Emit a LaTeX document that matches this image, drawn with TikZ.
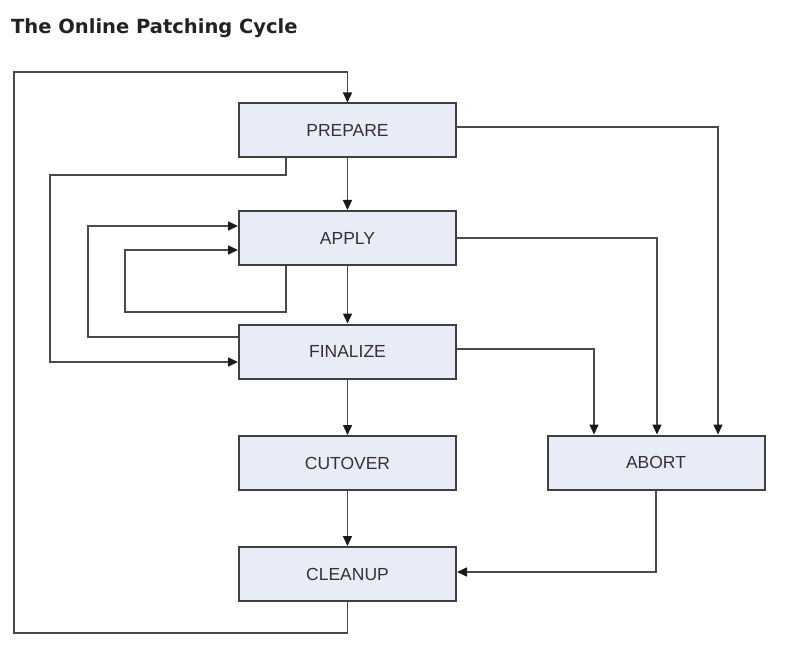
\documentclass[tikz,border=0pt]{standalone}
\usepackage{fontspec}
\setmainfont{Liberation Sans}
\newfontfamily\titlefont{DejaVu Sans}
\usetikzlibrary{arrows.meta}
\definecolor{boxfill}{HTML}{E8ECF6}
\definecolor{boxline}{HTML}{404040}
\definecolor{conn}{HTML}{4A4A4A}
\definecolor{titlecol}{HTML}{222222}
\tikzset{
  stage/.style={draw=boxline, line width=2pt, fill=boxfill, minimum width=217pt, minimum height=54pt, inner sep=0pt, font=\fontsize{17.5}{20}\selectfont, text=black!80},
  link/.style={draw=conn, line width=1.5pt},
  arr/.style={link, -{Triangle[length=10pt,width=9pt,color=black!90]}}
}
\begin{document}
\begin{tikzpicture}[x=1pt,y=-1pt]
\useasboundingbox (0,0) rectangle (795,647);
\node[anchor=west, font=\titlefont\bfseries\fontsize{19.5}{22}\selectfont, text=titlecol, inner sep=0pt] (title) at (11,28) {The Online Patching Cycle};
\node[stage] (prep) at (347.5,130.5) {PREPARE};
\node[stage] (apply) at (347.5,238) {APPLY};
\node[stage] (fin) at (347.5,351.5) {FINALIZE};
\node[stage] (cut) at (347.5,463) {CUTOVER};
\node[stage] (clean) at (347.5,574) {CLEANUP};
\node[stage] (abort) at (656,462.5) {ABORT};
\coordinate (lb) at (14,633);
\coordinate (lt) at (14,72);
\coordinate (c1) at (50,175);
\coordinate (c2) at (88,226);
\coordinate (c3) at (125,312);
% main flow
\draw[arr] (prep) -- (apply);
\draw[arr] (apply) -- (fin);
\draw[arr] (fin) -- (cut);
\draw[arr] (cut) -- (clean);
% outer loop
\draw[arr] (clean.south) |- (lb) -- (lt) -| (prep.north);
% to abort
\draw[arr] ([yshift=3.5pt]prep.east) -| ([xshift=62pt]abort.north);
\draw[arr] (apply.east) -| ([xshift=1pt]abort.north);
\draw[arr] ([yshift=2.5pt]fin.east) -| ([xshift=-62pt]abort.north);
\draw[arr] (abort.south) |- ([yshift=2pt]clean.east);
% loops on the left
\draw[arr] ([xshift=-61.5pt]prep.south) |- (c1) |- ([yshift=-10.5pt]fin.west);
\draw[arr] ([yshift=14.5pt]fin.west) -| (c2) -- ([yshift=12pt]apply.west);
\draw[arr] ([xshift=-61.5pt]apply.south) |- (c3) |- ([yshift=-12pt]apply.west);
\end{tikzpicture}
\end{document}
